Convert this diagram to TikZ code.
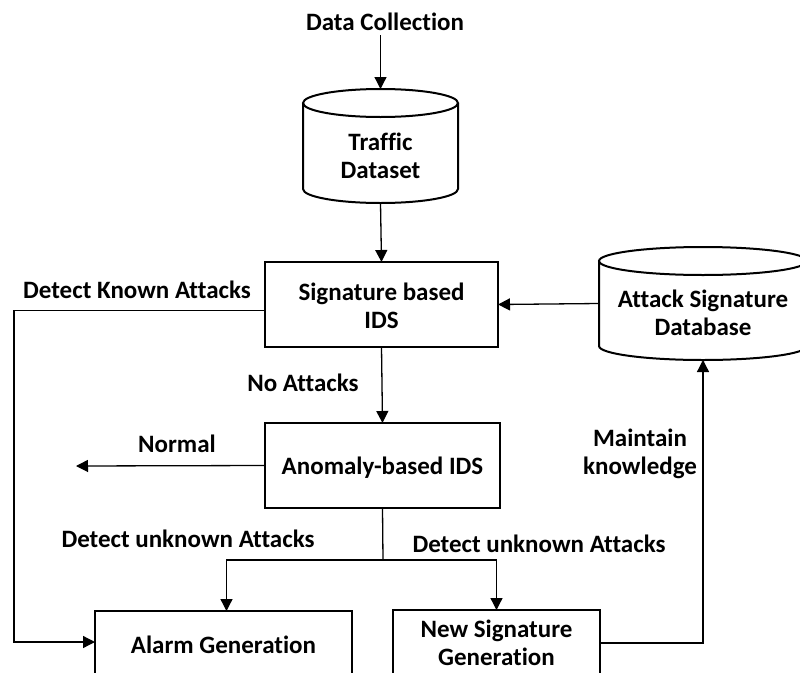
\documentclass[tikz,border=0pt]{standalone}
\usepackage{fontspec}
\setmainfont{Carlito}[Ligatures={NoCommon}]
\usetikzlibrary{arrows.meta,calc}

\tikzset{
  every node/.style={font=\bfseries\fontsize{25}{28}\selectfont, align=center},
  boxline/.style={line width=2pt, draw=black},
  procbox/.style={rectangle, boxline, inner sep=0pt, outer sep=0pt},
  dbarea/.style={rectangle, inner sep=0pt, outer sep=0pt},
  conn/.style={line width=1.3pt, draw=black},
  flow/.style={conn, -{Triangle[length=12pt,width=12pt]}},
  txt/.style={inner sep=0pt},
}

% cylinder outline drawn round a node: name, x radius, y radius of the caps
\newcommand\drawcyl[3]{%
  \draw[boxline] ([yshift=-#3pt]#1.north west) -- ([yshift=#3pt]#1.south west)
    arc[start angle=180, end angle=360, x radius=#2pt, y radius=#3pt]
    -- ([yshift=-#3pt]#1.north east);
  \draw[boxline] ([yshift=-#3pt]#1.north) ellipse[x radius=#2pt, y radius=#3pt];
}

\begin{document}
\begin{tikzpicture}[x=1pt, y=-1pt]
  \clip (0,0) rectangle (800,672);
  \fill[white] (0,0) rectangle (800,672);

  % source and data store
  \node[txt] (dc) at (385,22) {Data Collection};
  \node[dbarea, minimum width=155pt, minimum height=114pt] (traffic) at (380.5,146) {};
  \drawcyl{traffic}{77.5}{14}
  \node[txt] (traffictext) at (380.5,156) {Traffic\\Dataset};

  % detection stages
  \node[procbox, minimum width=233pt, minimum height=85pt] (sig) at (381.5,304.5) {};
  \node[txt] (sigtext) at (381.5,306) {Signature based\\IDS};
  \node[procbox, minimum width=235pt, minimum height=85pt] (anom) at (382.5,465.5) {};
  \node[txt] (anomtext) at (382.5,468) {Anomaly-based IDS};

  % signature store
  \node[dbarea, minimum width=208pt, minimum height=113pt] (db) at (703,303.5) {};
  \drawcyl{db}{104}{14}
  \node[txt] (dbtext) at (703,313) {Attack Signature\\Database};

  % outputs
  \node[procbox, minimum width=257pt, minimum height=68pt] (alarm) at (223.5,645) {Alarm Generation};
  \node[procbox, minimum width=207pt, minimum height=66pt] (newsig) at (496.5,643) {New Signature\\Generation};

  % edge labels
  \node[txt] (lknown) at (137,290) {Detect Known Attacks};
  \node[txt] (lnoatt) at (303,383) {No Attacks};
  \node[txt] (lnormal) at (177,444) {Normal};
  \node[txt] (lmaint) at (640,454) {Maintain\\knowledge};
  \node[txt] (lunk1) at (188,539) {Detect unknown Attacks};
  \node[txt] (lunk2) at (539,544) {Detect unknown Attacks};

  % helper points
  \coordinate (normalend) at (76,466);
  \coordinate (knownleft) at (14,500);
  \coordinate (split) at (383,560);

  % connectors
  \draw[flow] ([yshift=-4pt]dc.south -| traffic.north) -- (traffic.north);
  \draw[flow] (traffic.south) -- (sig.north);
  \draw[flow] (db.west) -- (sig.east);
  \draw[flow] (sig.south) -- (anom.north);
  \draw[flow] (anom.west) -- (normalend);
  \draw[flow] ([yshift=-6pt]sig.west) -| (knownleft) |- ([yshift=3pt]alarm.west);
  \draw[conn] (anom.south) -- (split);
  \draw[flow] (split) -| ([xshift=3pt]alarm.north);
  \draw[flow] (split) -| (newsig.north);
  \draw[flow] (newsig.east) -| (db.south);
\end{tikzpicture}
\end{document}
